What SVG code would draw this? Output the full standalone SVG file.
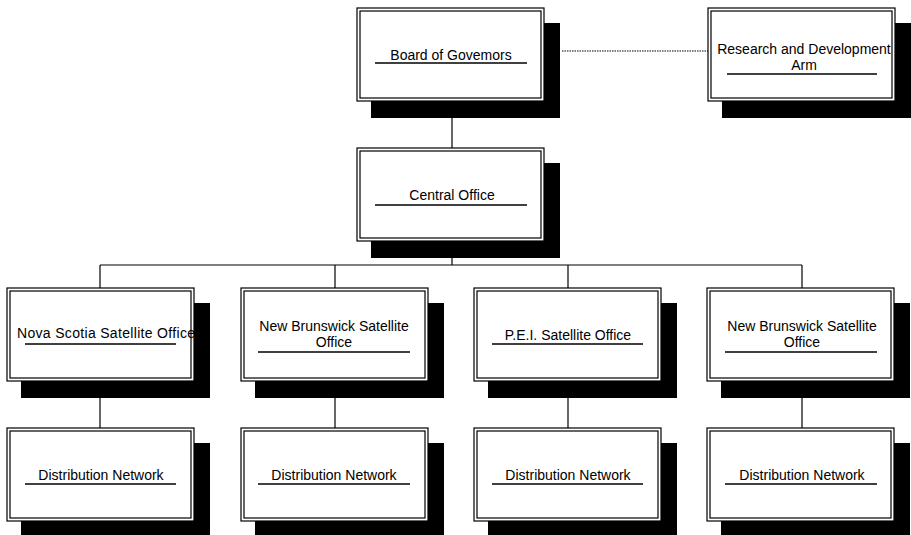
<svg xmlns="http://www.w3.org/2000/svg" width="911" height="535" viewBox="0 0 911 535">
<style>
.sh{fill:#000}
.bx{fill:#fff;stroke:#000;stroke-width:1.2}
.in{fill:none;stroke:#000;stroke-width:1.2}
.t{font-family:"Liberation Sans",Arial,sans-serif;font-size:14px;fill:#000;text-anchor:middle}
.ul{stroke:#000;stroke-width:1.5}
.c{stroke:#000;stroke-width:1.2;fill:none}
.d{stroke:#000;stroke-width:1.2;stroke-dasharray:1.5 1;fill:none}
</style>
<defs>
<g id="box">
<rect class="sh" x="14" y="15" width="189" height="95"/>
<rect class="bx" x="0" y="0" width="187" height="93"/>
<rect class="in" x="3" y="3" width="181" height="87"/>
</g>
</defs>
<g id="connectors">
<line class="d" x1="562" y1="51" x2="708" y2="51"/>
<line class="c" x1="452" y1="118" x2="452" y2="148"/>
<line class="c" x1="452" y1="258" x2="452" y2="265"/>
<line class="c" x1="100" y1="265" x2="802" y2="265"/>
<line class="c" x1="100" y1="265" x2="100" y2="288"/>
<line class="c" x1="335" y1="265" x2="335" y2="288"/>
<line class="c" x1="568" y1="265" x2="568" y2="288"/>
<line class="c" x1="802" y1="265" x2="802" y2="288"/>
<line class="c" x1="100" y1="398" x2="100" y2="428"/>
<line class="c" x1="335" y1="398" x2="335" y2="428"/>
<line class="c" x1="568" y1="398" x2="568" y2="428"/>
<line class="c" x1="802" y1="398" x2="802" y2="428"/>
</g>
<g id="board" transform="translate(357,8)">
<use href="#box"/>
<text class="t" x="94" y="52">Board of Govemors</text>
<line class="ul" x1="18" y1="55" x2="170" y2="55"/>
</g>
<g id="rnd" transform="translate(708,8)">
<use href="#box"/>
<text class="t" x="96" y="46">Research and Development</text>
<text class="t" x="96" y="62">Arm</text>
<line class="ul" x1="19" y1="66" x2="169" y2="66"/>
</g>
<g id="central" transform="translate(357,148)">
<use href="#box"/>
<text class="t" x="95" y="52">Central Office</text>
<line class="ul" x1="18" y1="57" x2="170" y2="57"/>
</g>
<g id="ns" transform="translate(7,288)">
<use href="#box"/>
<text class="t" x="10" y="50" style="text-anchor:start" textLength="178" lengthAdjust="spacing">Nova Scotia Satellite Office</text>
<line class="ul" x1="18" y1="56" x2="169" y2="56"/>
</g>
<g id="nb1" transform="translate(241,288)">
<use href="#box"/>
<text class="t" x="93" y="43">New Brunswick Satellite</text>
<text class="t" x="93" y="59">Office</text>
<line class="ul" x1="17" y1="64" x2="169" y2="64"/>
</g>
<g id="pei" transform="translate(474,288)">
<use href="#box"/>
<text class="t" x="94" y="52">P.E.I. Satellite Office</text>
<line class="ul" x1="18" y1="56" x2="169" y2="56"/>
</g>
<g id="nb2" transform="translate(707,288)">
<use href="#box"/>
<text class="t" x="95" y="43">New Brunswick Satellite</text>
<text class="t" x="95" y="59">Office</text>
<line class="ul" x1="18" y1="64" x2="170" y2="64"/>
</g>
<g id="dn1" transform="translate(7,428)">
<use href="#box"/>
<text class="t" x="94" y="52">Distribution Network</text>
<line class="ul" x1="18" y1="56" x2="169" y2="56"/>
</g>
<g id="dn2" transform="translate(241,428)">
<use href="#box"/>
<text class="t" x="93" y="52">Distribution Network</text>
<line class="ul" x1="17" y1="56" x2="169" y2="56"/>
</g>
<g id="dn3" transform="translate(474,428)">
<use href="#box"/>
<text class="t" x="94" y="52">Distribution Network</text>
<line class="ul" x1="18" y1="56" x2="169" y2="56"/>
</g>
<g id="dn4" transform="translate(707,428)">
<use href="#box"/>
<text class="t" x="95" y="52">Distribution Network</text>
<line class="ul" x1="18" y1="56" x2="170" y2="56"/>
</g>
</svg>
